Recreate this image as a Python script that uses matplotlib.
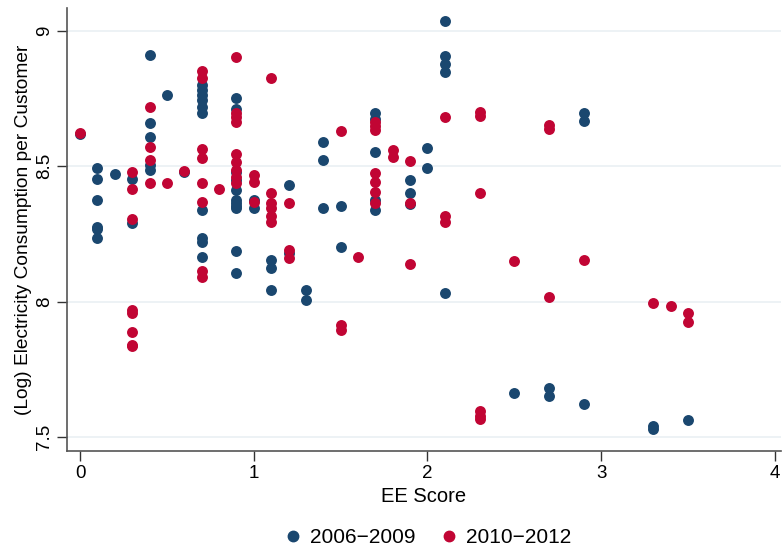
import matplotlib
matplotlib.use('Agg')
import matplotlib.pyplot as plt
from matplotlib.lines import Line2D

# EE score vs log electricity consumption, two periods
blue_x = [0,
          0.1, 0.1, 0.1, 0.1, 0.1, 0.1,
          0.2,
          0.3, 0.3,
          0.4, 0.4, 0.4, 0.4, 0.4,
          0.5,
          0.6,
          0.7, 0.7, 0.7, 0.7, 0.7, 0.7, 0.7, 0.7, 0.7, 0.7,
          0.9, 0.9, 0.9, 0.9, 0.9, 0.9, 0.9, 0.9, 0.9, 0.9, 0.9,
          1.0, 1.0,
          1.1, 1.1, 1.1,
          1.2, 1.2,
          1.3, 1.3,
          1.4, 1.4, 1.4,
          1.5, 1.5,
          1.7, 1.7, 1.7, 1.7, 1.7,
          1.9, 1.9, 1.9,
          2.0, 2.0,
          2.1, 2.1, 2.1, 2.1, 2.1,
          2.5,
          2.7, 2.7,
          2.9, 2.9, 2.9,
          3.3, 3.3,
          3.5]
blue_y = [8.620,
          8.494, 8.454, 8.376, 8.277, 8.266, 8.236,
          8.472,
          8.454, 8.291,
          8.911, 8.661, 8.609, 8.506, 8.487,
          8.764,
          8.480,
          8.801, 8.782, 8.764, 8.745, 8.720, 8.697, 8.339, 8.236, 8.221, 8.166,
          8.753, 8.712, 8.480, 8.450, 8.413, 8.376, 8.351, 8.365, 8.347, 8.188, 8.107,
          8.376, 8.347,
          8.155, 8.122, 8.041,
          8.432, 8.181,
          8.044, 8.005,
          8.590, 8.524, 8.347,
          8.354, 8.203,
          8.697, 8.675, 8.554, 8.376, 8.339,
          8.450, 8.402, 8.360,
          8.568, 8.494,
          9.037, 8.908, 8.878, 8.849, 8.033,
          7.661,
          7.679, 7.650,
          8.697, 8.668, 7.620,
          7.539, 7.528,
          7.561]

red_x = [0,
         0.3, 0.3, 0.3, 0.3, 0.3, 0.3, 0.3, 0.3,
         0.4, 0.4, 0.4, 0.4,
         0.5,
         0.6,
         0.7, 0.7, 0.7, 0.7, 0.7, 0.7, 0.7, 0.7,
         0.8,
         0.9, 0.9, 0.9, 0.9, 0.9, 0.9, 0.9, 0.9, 0.9,
         1.0, 1.0, 1.0,
         1.1, 1.1, 1.1, 1.1, 1.1, 1.1,
         1.2, 1.2, 1.2,
         1.5, 1.5, 1.5,
         1.6,
         1.7, 1.7, 1.7, 1.7, 1.7, 1.7, 1.7,
         1.8, 1.8,
         1.9, 1.9, 1.9,
         2.1, 2.1, 2.1,
         2.3, 2.3, 2.3, 2.3, 2.3, 2.3,
         2.5,
         2.7, 2.7, 2.7,
         2.9,
         3.3,
         3.4,
         3.5, 3.5]
red_y = [8.624,
         8.480, 8.417, 8.303, 7.970, 7.959, 7.886, 7.840, 7.834,
         8.720, 8.572, 8.524, 8.436,
         8.436,
         8.483,
         8.853, 8.826, 8.565, 8.531, 8.439, 8.369, 8.111, 8.089,
         8.417,
         8.904, 8.697, 8.680, 8.664, 8.546, 8.517, 8.487, 8.461, 8.439,
         8.469, 8.443, 8.369,
         8.826, 8.399, 8.365, 8.347, 8.314, 8.295,
         8.365, 8.192, 8.162,
         8.631, 7.915, 7.895,
         8.166,
         8.664, 8.650, 8.635, 8.476, 8.443, 8.406, 8.365,
         8.561, 8.535,
         8.520, 8.362, 8.137,
         8.683, 8.314, 8.295,
         8.701, 8.686, 8.399, 7.594, 7.576, 7.565,
         8.148,
         8.653, 8.638, 8.018,
         8.155,
         7.996,
         7.982,
         7.959, 7.926]

x_ticks = [0, 1, 2, 3, 4]
y_ticks = [7.5, 8, 8.5, 9]
series_labels = ['2006\u22122009', '2010\u22122012']

BLUE = '#1a476f'
RED = '#c10534'

plt.rcParams['font.family'] = ['Liberation Sans', 'DejaVu Sans']

fig = plt.figure(figsize=(7.82, 5.52), dpi=100)
ax = fig.add_axes([0.0857, 0.183, 0.913, 0.803])

ax.scatter(blue_x, blue_y, s=62, color=BLUE, linewidths=0, zorder=3)
ax.scatter(red_x, red_y, s=62, color=RED, linewidths=0, zorder=3)

ax.set_xlim(-0.075, 4.035)
ax.set_ylim(7.448, 9.085)
ax.set_xticks(x_ticks)
ax.set_xticklabels([str(v) for v in x_ticks])
ax.set_yticks(y_ticks)
ax.set_yticklabels(['7.5', '8', '8.5', '9'], rotation=90, va='center')

# light horizontal grid like Stata
ax.grid(axis='y', color='#eaf0f3', linewidth=1.2, zorder=0)
ax.grid(axis='x', visible=False)

for side in ['top', 'right']:
    ax.spines[side].set_visible(False)
for side in ['left', 'bottom']:
    ax.spines[side].set_color('#555555')
    ax.spines[side].set_linewidth(1.2)
ax.tick_params(direction='out', length=7, width=1, color='#333333',
               labelsize=13.5, pad=3)

ax.set_xlabel('EE Score', fontsize=14.5, labelpad=4)
ax.set_ylabel('(Log) Electricity Consumption per Customer', fontsize=13.8, labelpad=3)

# legend is centred on the plot region, not the whole figure
handles = [Line2D([], [], marker='o', linestyle='', color=BLUE, markersize=7.5),
           Line2D([], [], marker='o', linestyle='', color=RED, markersize=7.5)]
fig.legend(handles, series_labels, loc='center', bbox_to_anchor=(0.546, 0.026),
           ncol=2, frameon=False, fontsize=15, handletextpad=0.3,
           handlelength=1.0, columnspacing=1.1)

plt.savefig('out.png', dpi=100, facecolor='white')
